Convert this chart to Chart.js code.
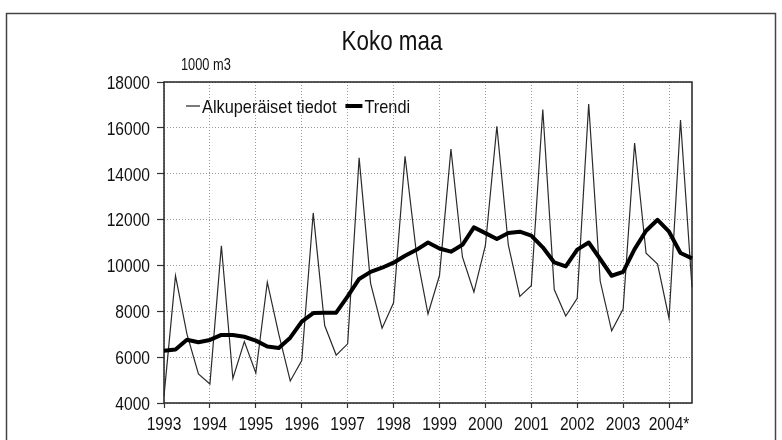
<!DOCTYPE html>
<html>
<head>
<meta charset="utf-8">
<script src="https://cdn.jsdelivr.net/npm/chart.js@4.4.0/dist/chart.umd.min.js"></script>
<style>
html,body{margin:0;padding:0;background:#fff;}
#wrap{width:782px;height:440px;position:relative;}
</style>
</head>
<body>
<div id="wrap"><canvas id="c" width="782" height="440"></canvas></div>
<script>
// ---- data ----
const years = ['1993','1994','1995','1996','1997','1998','1999','2000','2001','2002','2003','2004'];
const yearTickLabels = ['1993','1994','1995','1996','1997','1998','1999','2000','2001','2002','2003','2004*'];
const quarters = ['Q1','Q2','Q3','Q4'];
const pointCount = 47; // 1993Q1 .. 2004Q3

const original = [4300, 9550, 7000, 5270, 4830, 10860, 5070, 6680, 5310, 9270, 7000, 4960,
                  5850, 12290, 7380, 6090, 6580, 14690, 9220, 7260, 8370, 14760, 10500, 7880,
                  9560, 15080, 10370, 8840, 10870, 16070, 10880, 8650, 9120, 16800, 8950, 7790,
                  8570, 17040, 9320, 7150, 8100, 15340, 10530, 10060, 7690, 16340, 9050];
const trend = [6280, 6330, 6760, 6650, 6750, 6970, 6970, 6890, 6720, 6460, 6400, 6850,
               7550, 7920, 7940, 7940, 8650, 9410, 9720, 9900, 10120, 10420, 10680, 11000,
               10740, 10600, 10900, 11660, 11410, 11150, 11410, 11470, 11300, 10790, 10130, 9960,
               10690, 11000, 10280, 9550, 9720, 10710, 11510, 11990, 11470, 10540, 10310];
const yTickValues = [4000, 6000, 8000, 10000, 12000, 14000, 16000, 18000];
const titleText = 'Koko maa';
const unitText = '1000 m3';
const seriesNames = ['Alkuperäiset tiedot', 'Trendi'];

// category labels built from years x quarters
const categories = [];
for (let i = 0; i < pointCount; i++) {
  categories.push(years[Math.floor(i / 4)] + ' ' + quarters[i % 4]);
}

const FONT = "'Liberation Sans', Arial, sans-serif";

// draw text horizontally condensed (emulating a narrow face)
function narrowText(ctx, text, x, y, size, squeeze, align) {
  ctx.save();
  ctx.font = size + "px " + FONT;
  const w = ctx.measureText(text).width * squeeze;
  let left = x;
  if (align === 'center') left = x - w / 2;
  else if (align === 'right') left = x - w;
  ctx.translate(left, y);
  ctx.scale(squeeze, 1);
  ctx.textAlign = 'left';
  ctx.textBaseline = 'alphabetic';
  ctx.fillText(text, 0, 0);
  ctx.restore();
  return w;
}

const decor = {
  id: 'decor',
  beforeDraw(chart) {
    const ctx = chart.ctx;
    ctx.save();
    ctx.fillStyle = '#fff';
    ctx.fillRect(0, 0, chart.width, chart.height);
    ctx.strokeStyle = '#444';
    ctx.lineWidth = 1.5;
    ctx.strokeRect(6.5, 13.5, 769, 460);
    ctx.restore();
  },
  beforeDatasetsDraw(chart) {
    const ctx = chart.ctx, a = chart.chartArea;
    ctx.save();
    ctx.strokeStyle = '#222';
    ctx.lineWidth = 1.5;
    ctx.strokeRect(a.left, a.top, a.right - a.left, a.bottom - a.top);
    ctx.restore();
  },
  afterDraw(chart) {
    const ctx = chart.ctx;
    const xs = chart.scales.x, ys = chart.scales.y;
    ctx.save();
    ctx.fillStyle = '#111';
    // title
    narrowText(ctx, titleText, 392, 50, 28, 0.8, 'center');
    // unit
    narrowText(ctx, unitText, 181, 70, 16, 0.8, 'left');
    // axis tick labels (positions from the library's scales)
    yearTickLabels.forEach((lab, k) => {
      narrowText(ctx, lab, xs.getPixelForValue(k * 4), 430, 19, 0.82, 'center');
    });
    yTickValues.forEach(v => {
      narrowText(ctx, String(v), 150, ys.getPixelForValue(v) + 6.8, 19, 0.82, 'right');
    });
    // legend
    const ly = 106;
    ctx.strokeStyle = '#222';
    ctx.lineWidth = 1.2;
    ctx.beginPath(); ctx.moveTo(186, ly); ctx.lineTo(200, ly); ctx.stroke();
    const w1 = narrowText(ctx, seriesNames[0], 202, 113, 19, 0.86, 'left');
    const bx = 202 + w1 + 9;
    ctx.strokeStyle = '#000';
    ctx.lineWidth = 4;
    ctx.beginPath(); ctx.moveTo(bx, ly); ctx.lineTo(bx + 17, ly); ctx.stroke();
    narrowText(ctx, seriesNames[1], bx + 19, 113, 19, 0.86, 'left');
    ctx.restore();
  }
};

new Chart(document.getElementById('c'), {
  type: 'line',
  data: {
    labels: categories,
    datasets: [
      { label: seriesNames[1], data: trend, borderColor: '#000', borderWidth: 4,
        pointRadius: 0, tension: 0, borderJoinStyle: 'round', order: 0 },
      { label: seriesNames[0], data: original, borderColor: '#2a2a2a', borderWidth: 1.2,
        pointRadius: 0, tension: 0, order: 1 }
    ]
  },
  options: {
    responsive: false,
    animation: false,
    devicePixelRatio: 1,
    layout: { padding: { left: 0, right: 90, top: 82, bottom: 0 } },
    plugins: { legend: { display: false }, title: { display: false }, tooltip: { enabled: false } },
    scales: {
      x: {
        type: 'category',
        offset: false,
        afterFit(s) { s.height = 37; },
        grid: { color: '#9a9a9a', lineWidth: 1, tickLength: 5, tickColor: '#333', tickWidth: 1.2,
                borderDash: [1, 2] },
        border: { display: false, dash: [1, 2] },
        ticks: {
          autoSkip: false, maxRotation: 0, padding: 6, color: 'rgba(0,0,0,0)',
          font: { family: FONT, size: 16 },
          callback(v, i) { return i % 4 === 0 ? yearTickLabels[i / 4] : null; }
        }
      },
      y: {
        min: yTickValues[0], max: yTickValues[yTickValues.length - 1],
        afterFit(s) { s.width = 164; },
        afterBuildTicks(s) { s.ticks = yTickValues.map(v => ({ value: v })); },
        grid: { color: '#9a9a9a', lineWidth: 1, tickLength: 7, tickColor: '#333', tickWidth: 1.2,
                borderDash: [1, 2] },
        border: { display: false, dash: [1, 2] },
        ticks: {
          padding: 7, color: 'rgba(0,0,0,0)',
          font: { family: FONT, size: 16 },
          callback(v) { return String(v); }
        }
      }
    }
  },
  plugins: [decor]
});
</script>
</body>
</html>
